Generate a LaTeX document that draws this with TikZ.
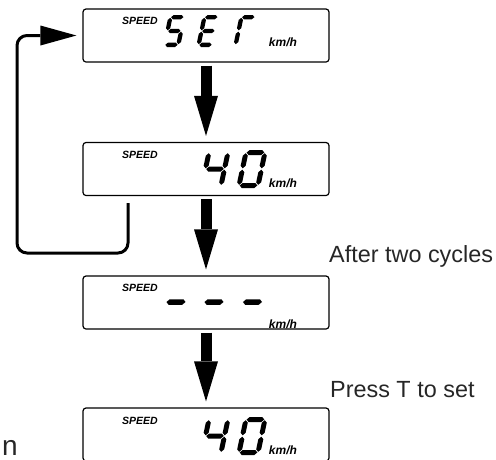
\documentclass[tikz,border=0pt]{standalone}
\usepackage{fontspec}
\setmainfont{Liberation Sans}
\usepackage{tikz}
\usetikzlibrary{arrows.meta}

% pieces of the seven segment figures
\newcommand{\lcdh}[3]{\fill (#1,#3) -- ({#1+\segt/2},{#3+\segt/2}) -- ({#2-\segt/2},{#3+\segt/2}) -- (#2,#3) -- ({#2-\segt/2},{#3-\segt/2}) -- ({#1+\segt/2},{#3-\segt/2}) -- cycle;}
\newcommand{\lcdv}[3]{\fill (#1,#2) -- ({#1+\segt/2},{#2+\segt/2}) -- ({#1+\segt/2},{#3-\segt/2}) -- (#1,#3) -- ({#1-\segt/2},{#3-\segt/2}) -- ({#1-\segt/2},{#2+\segt/2}) -- cycle;}
\newcommand{\lcdsega}{\lcdh{\segxa}{\segxb}{\segyt}}
\newcommand{\lcdsegg}{\lcdh{\segxa}{\segxb}{\segym}}
\newcommand{\lcdsegd}{\lcdh{\segxa}{\segxb}{\segyb}}
\newcommand{\lcdsegf}{\lcdv{\segxl}{\segyd}{\segye}}
\newcommand{\lcdsege}{\lcdv{\segxl}{\segya}{\segyc}}
\newcommand{\lcdsegb}{\lcdv{\segxr}{\segyd}{\segye}}
\newcommand{\lcdsegc}{\lcdv{\segxr}{\segya}{\segyc}}
% x, bottom y, height, width, thickness, segments
\newcommand{\lcddigit}[6]{%
  \begin{scope}[shift={(#1,#2)}, xslant=0.21]
    \pgfmathsetmacro\segt{#5}
    \pgfmathsetmacro\segxl{#5/2}
    \pgfmathsetmacro\segxr{#4-#5/2}
    \pgfmathsetmacro\segxa{#5/2+0.7}
    \pgfmathsetmacro\segxb{#4-#5/2-0.7}
    \pgfmathsetmacro\segyb{#5/2}
    \pgfmathsetmacro\segym{#3/2}
    \pgfmathsetmacro\segyt{#3-#5/2}
    \pgfmathsetmacro\segya{#5/2+0.7}
    \pgfmathsetmacro\segyc{#3/2-0.7}
    \pgfmathsetmacro\segyd{#3/2+0.7}
    \pgfmathsetmacro\segye{#3-#5/2-0.7}
    \foreach \s in {#6} {\csname lcdseg\s\endcsname}
  \end{scope}}

\begin{document}
\begin{tikzpicture}[x=1pt, y=1pt]
                \tikzstyle{every node}+=[inner sep=0pt]
                \tikzstyle{lcd}=[draw, line width=1.2pt, rounded corners=3pt, minimum width=246pt, minimum height=53pt]
                \tikzstyle{speed}=[font=\fontsize{10.5}{10}\selectfont\bfseries\itshape]
                \tikzstyle{kmh}=[font=\fontsize{12}{12}\selectfont\bfseries\itshape]
                \tikzstyle{note}=[anchor=base west, text=black!85, font=\fontsize{23.4}{28}\selectfont]
                \tikzstyle{flow}=[line width=11pt, -{Triangle[width=24pt, length=40pt, line width=0pt]}, shorten <=3pt, shorten >=6pt]
                \tikzstyle{back}=[line width=3pt, rounded corners=10pt, -{Triangle[width=20pt, length=36pt, line width=0pt]}, shorten >=6pt]
                \useasboundingbox (0,0) rectangle (496,-459);
                \node [lcd] (set) at (206,-35.5) {};
                \node [lcd] (forty) at (206,-169) {};
                \node [lcd] (dashes) at (206,-302.5) {};
                \node [lcd] (saved) at (206,-434.5) {};
                \node [speed] (speedA) at (140,-21) {SPEED};
                \node [speed] (speedB) at (140,-155) {SPEED};
                \node [speed] (speedC) at (140,-288) {SPEED};
                \node [speed] (speedD) at (140,-421) {SPEED};
                \node [kmh] (unitA) at (283,-42) {km/h};
                \node [kmh] (unitB) at (283,-183) {km/h};
                \node [kmh] (unitC) at (283,-324) {km/h};
                \node [kmh] (unitD) at (283,-450) {km/h};
                \lcddigit{162}{-47}{32}{18}{4.3}{a,f,g,c,d}
                \lcddigit{196}{-47}{32}{18}{4.3}{a,f,g,e,d}
                \lcddigit{233}{-47}{32}{18}{4.3}{a,f,e}
                \lcddigit{199}{-188}{38}{24}{5}{f,g,b,c}
                \lcddigit{236}{-188}{38}{24}{5}{a,b,c,d,e,f}
                \lcddigit{159}{-321}{38}{26}{5.5}{g}
                \lcddigit{197}{-321}{38}{26}{5.5}{g}
                \lcddigit{235.5}{-321}{38}{26}{5.5}{g}
                \lcddigit{199}{-455}{38}{24}{5}{f,g,b,c}
                \lcddigit{236}{-455}{38}{24}{5}{a,b,c,d,e,f}
                \draw [flow] (set) -- (forty);
                \draw [flow] (forty) -- (dashes);
                \draw [flow] (dashes) -- (saved);
                \coordinate (loopstart) at (128,-203);
                \draw [back] (loopstart) -- (128,-253) -- (17,-253) -- (17,-35.5) -- (set.west);
                \node [note] (cycles) at (329,-262) {After two cycles};
                \node [note] (press) at (330,-397) {Press T to set};
                \node [note, font=\fontsize{28}{30}\selectfont] (cut) at (2,-455) {n};
\end{tikzpicture}
\end{document}
